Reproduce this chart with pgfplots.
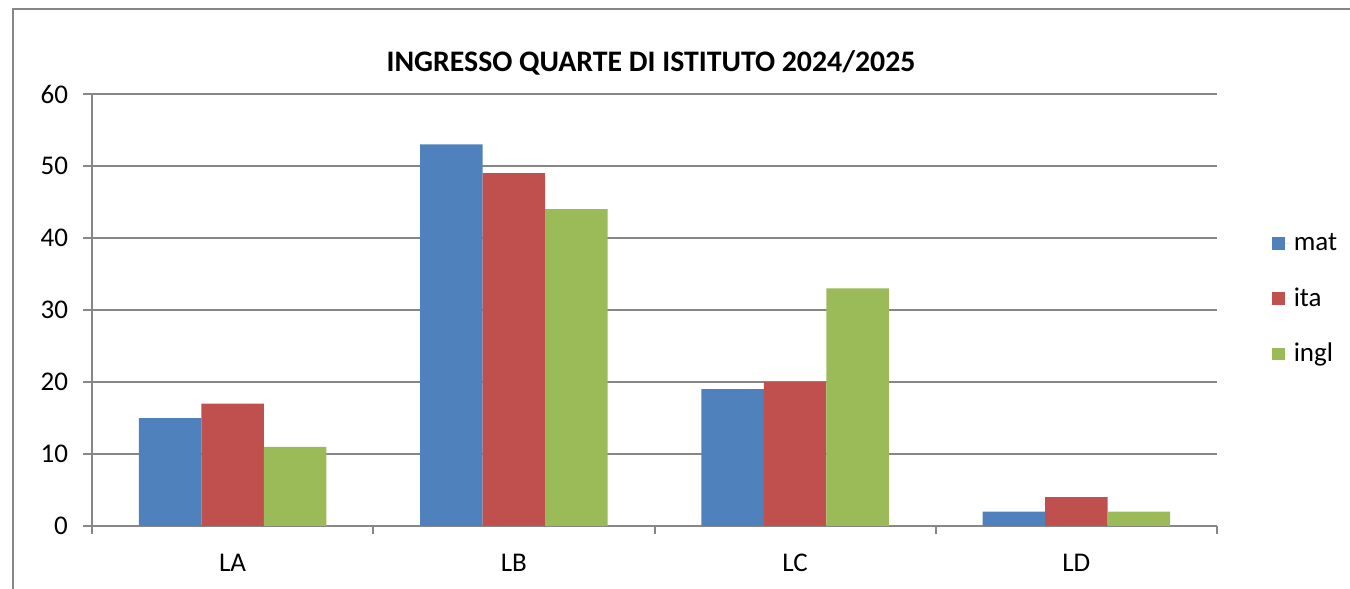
\documentclass[border=0pt]{standalone}
\usepackage{pgfplots}
\pgfplotsset{compat=1.18}
\usepackage{fontspec}
\setmainfont{Carlito}
\definecolor{cmat}{HTML}{4F81BD}
\definecolor{cita}{HTML}{C0504D}
\definecolor{cingl}{HTML}{9BBB59}
\definecolor{gridc}{HTML}{878787}
\begin{document}
\begin{tikzpicture}
\useasboundingbox (0,0) rectangle (675pt,294.5pt);
% chart frame (only left and top edges are visible)
\draw[gridc, line width=1pt] (6.5pt,-2pt) -- (6.5pt,290pt) -- (680pt,290pt);
\node[font=\bfseries\fontsize{14.9}{17}\selectfont] at (325.5pt,263pt) {INGRESSO QUARTE DI ISTITUTO 2024/2025};
\begin{axis}[
  at={(46pt,31.5pt)}, anchor=south west,
  width=562.5pt, height=216pt, scale only axis,
  ybar=0pt, bar width=0.2222,
  xmin=-0.5, xmax=3.5, ymin=0, ymax=60,
  xtick={0,1,2,3}, xticklabels={LA,LB,LC,LD},
  major x tick style={draw=none},
  minor xtick={-0.5,0.5,1.5,2.5,3.5},
  ytick={0,10,...,60},
  tick align=outside,
  major tick length=4.5pt, minor tick length=4pt,
  axis lines*=left,
  ymajorgrids,
  grid style={gridc, line width=1pt},
  axis line style={gridc, line width=1pt},
  tick style={gridc, line width=1pt},
  tick label style={font=\fontsize{13.5}{15}\selectfont, text=black},
  yticklabel style={xshift=-4pt},
  xticklabel style={yshift=-6pt},
  /pgf/number format/assume math mode=true,
  legend style={draw=none, fill=none, at={(1.043,0.525)}, anchor=west,
    font=\fontsize{13.5}{15}\selectfont, row sep=13pt},
  legend cell align=left,
  legend image code/.code={\fill[#1] (0pt,-3.2pt) rectangle (6.4pt,3.2pt);
    \path (0pt,0pt) -- (9pt,0pt);},
]
\addplot[fill=cmat, draw=none] coordinates {(0,15) (1,53) (2,19) (3,2)};
\addplot[fill=cita, draw=none] coordinates {(0,17) (1,49) (2,20) (3,4)};
\addplot[fill=cingl, draw=none] coordinates {(0,11) (1,44) (2,33) (3,2)};
\legend{mat,ita,ingl}
\end{axis}
\end{tikzpicture}
\end{document}
